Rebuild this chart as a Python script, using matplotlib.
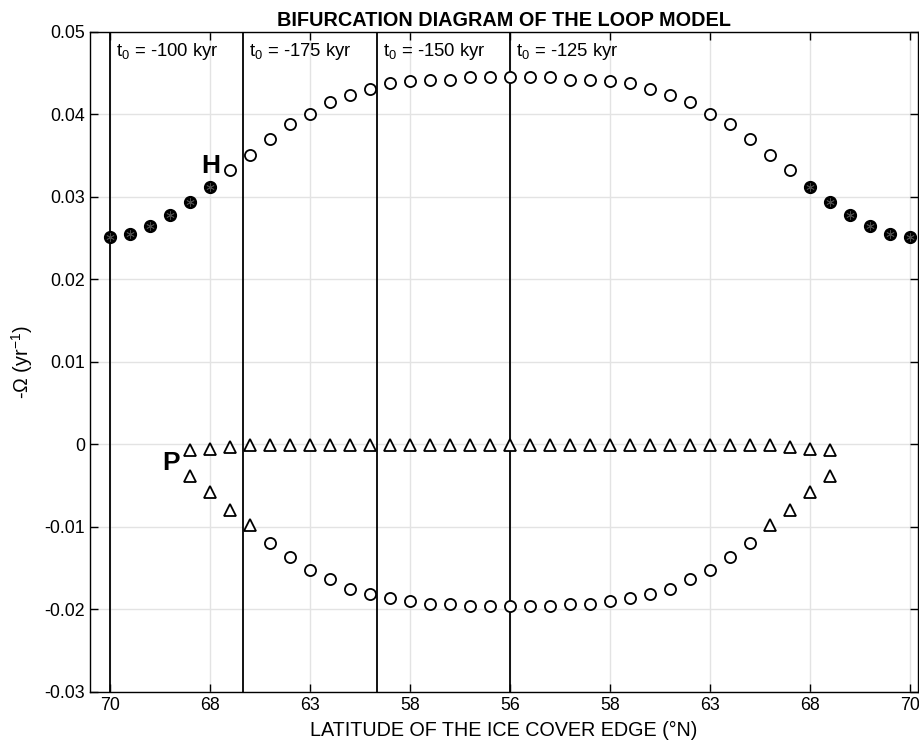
import numpy as np
import matplotlib
matplotlib.use("Agg")
import matplotlib.pyplot as plt

plt.rcParams['font.family'] = ['Liberation Sans', 'DejaVu Sans']
plt.rcParams['axes.unicode_minus'] = False
plt.rcParams['mathtext.default'] = 'regular'

# x axis is point index along the branch; tick labels give the ice edge latitude
tick_pos = [0, 5, 10, 15, 20, 25, 30, 35, 40]
tick_labels = ['70', '68', '63', '58', '56', '58', '63', '68', '70']

# upper branch (-Omega of the limit cycle)
upper_x = list(range(41))
upper_y = [0.0251, 0.0255, 0.0265, 0.0278, 0.0294, 0.0312, 0.0333, 0.0351, 0.0370, 0.0388,
           0.0401, 0.0415, 0.0424, 0.0431, 0.0438, 0.0440, 0.0442, 0.0442, 0.0445, 0.0445,
           0.0445, 0.0445, 0.0445, 0.0442, 0.0442, 0.0440, 0.0438, 0.0431, 0.0424, 0.0415,
           0.0401, 0.0388, 0.0370, 0.0351, 0.0333, 0.0312, 0.0294, 0.0278, 0.0265, 0.0255,
           0.0251]
upper_stable = [i <= 5 or i >= 35 for i in upper_x]

# lower branches, from index 4 to 36
lower_x = list(range(4, 37))
near0_y = [-0.0007, -0.0005, -0.0003] + [-0.0001] * 27 + [-0.0003, -0.0005, -0.0007]
lower_y = [-0.0038, -0.0057, -0.0079, -0.0098, -0.0120, -0.0136, -0.0152, -0.0163, -0.0175,
           -0.0181, -0.0186, -0.0190, -0.0193, -0.0193, -0.0196, -0.0196, -0.0196, -0.0196,
           -0.0196, -0.0193, -0.0193, -0.0190, -0.0186, -0.0181, -0.0175, -0.0163, -0.0152,
           -0.0136, -0.0120, -0.0098, -0.0079, -0.0057, -0.0038]
lower_tri = [x <= 7 or x >= 33 for x in lower_x]

# onset times of the runs
t0_pos = [0, 6.67, 13.33, 20]
t0_labels = ['-100', '-175', '-150', '-125']

yticks = [0.05, 0.04, 0.03, 0.02, 0.01, 0, -0.01, -0.02, -0.03]
ytick_labels = ['0.05', '0.04', '0.03', '0.02', '0.01', '0', '-0.01', '-0.02', '-0.03']

fig = plt.figure(figsize=(9.19, 7.51), dpi=100)
ax = fig.add_axes([0.098, 0.0786, 0.901, 0.8788])

ax.set_xlim(-1.0, 40.4)
ax.set_ylim(-0.03, 0.05)
ax.set_xticks(tick_pos)
ax.set_xticklabels(tick_labels)
ax.set_yticks(yticks)
ax.set_yticklabels(ytick_labels)
ax.grid(True, color='#e3e3e3', lw=1.0)
ax.set_axisbelow(True)
ax.tick_params(direction='in', length=6, width=1, top=True, right=True, labelsize=12.8)
for s in ax.spines.values():
    s.set_linewidth(1.0)

for p in t0_pos:
    ax.axvline(p, color='k', lw=1.3, zorder=2)
for p, lab in zip(t0_pos, t0_labels):
    ax.text(p + 0.3, 0.0476, '$t_0$ = ' + lab + ' kyr', fontsize=13.3, va='center', ha='left')

ux = np.array(upper_x)
uy = np.array(upper_y)
st = np.array(upper_stable)
ax.plot(ux[~st], uy[~st], 'o', ms=8, mfc='white', mec='k', mew=1.3, zorder=3)
ax.plot(ux[st], uy[st], 'o', ms=8.5, mfc='k', mec='k', mew=1.0, zorder=3)
ax.plot(ux[st], uy[st], marker=(6, 2, 0), ls='none', ms=6, mec='#4a4a4a', mew=0.6, zorder=4)

lx = np.array(lower_x)
tri = np.array(lower_tri)
ax.plot(lx, near0_y, '^', ms=8.5, mfc='white', mec='k', mew=1.3, zorder=3)
ly = np.array(lower_y)
ax.plot(lx[tri], ly[tri], '^', ms=8.5, mfc='white', mec='k', mew=1.3, zorder=3)
ax.plot(lx[~tri], ly[~tri], 'o', ms=8, mfc='white', mec='k', mew=1.3, zorder=3)

ax.text(5.05, 0.0337, 'H', fontsize=19, fontweight='bold', ha='center', va='center')
ax.text(3.07, -0.0023, 'P', fontsize=19, fontweight='bold', ha='center', va='center')

ax.set_title('BIFURCATION DIAGRAM OF THE LOOP MODEL', fontsize=14.3, fontweight='bold', pad=4)
ax.set_xlabel('LATITUDE OF THE ICE COVER EDGE (°N)', fontsize=14.2, labelpad=5)
ax.set_ylabel('-Ω (yr$^{-1}$)', fontsize=14.2, labelpad=7)

fig.savefig('out.png', dpi=100)
